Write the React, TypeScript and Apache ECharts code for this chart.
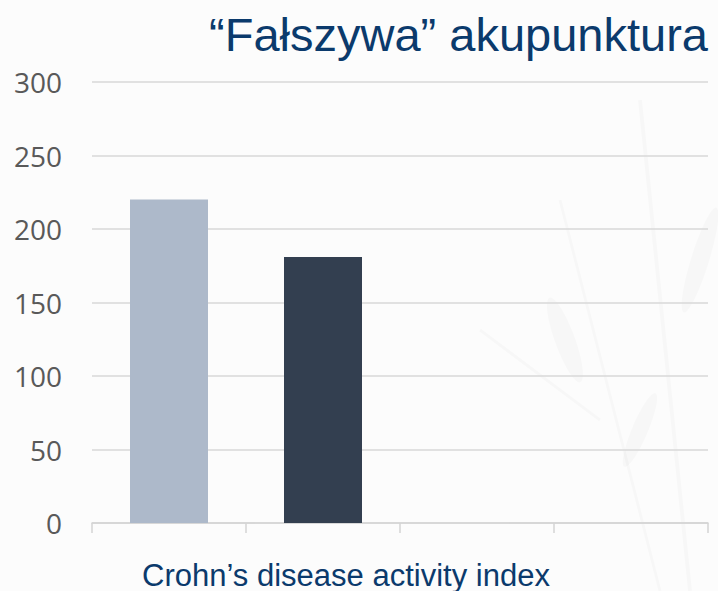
import React, { useEffect, useRef } from "react";
import * as echarts from "echarts";

const categories: string[] = ["", "", "", ""];
const barValues: (number | null)[] = [220, 181, null, null];
const barColors: string[] = ["#ADB9CA", "#333F50", "#ADB9CA", "#333F50"];
const yTicks = { min: 0, max: 300, interval: 50 };
const titleText = "\u201cFałszywa\u201d akupunktura";
const xName = "Crohn\u2019s disease activity index";

export default function App() {
  const ref = useRef<HTMLDivElement>(null);
  useEffect(() => {
    if (!ref.current) return;
    const chart = echarts.init(ref.current, undefined, { renderer: "svg" });
    const leaf = "rgba(0,0,0,0.02)";
    chart.setOption({
      animation: false,
      backgroundColor: "#fcfcfc",
      graphic: [
        { type: "line", silent: true, z: -10, shape: { x1: 560, y1: 200, x2: 660, y2: 591 }, style: { stroke: leaf, lineWidth: 3 } },
        { type: "line", silent: true, z: -10, shape: { x1: 640, y1: 100, x2: 690, y2: 591 }, style: { stroke: leaf, lineWidth: 4 } },
        { type: "line", silent: true, z: -10, shape: { x1: 480, y1: 330, x2: 600, y2: 420 }, style: { stroke: leaf, lineWidth: 3 } },
        { type: "ellipse", silent: true, z: -10, x: 565, y: 340, rotation: 0.35, shape: { cx: 0, cy: 0, rx: 10, ry: 45 }, style: { fill: leaf } },
        { type: "ellipse", silent: true, z: -10, x: 700, y: 260, rotation: -0.3, shape: { cx: 0, cy: 0, rx: 9, ry: 55 }, style: { fill: leaf } },
        { type: "ellipse", silent: true, z: -10, x: 640, y: 430, rotation: -0.4, shape: { cx: 0, cy: 0, rx: 8, ry: 40 }, style: { fill: leaf } },
        {
          type: "text",
          right: 10,
          top: 11,
          style: {
            text: titleText,
            fontFamily: "Liberation Sans, Arial, sans-serif",
            fontSize: 47,
            fill: "#0B3A6C",
          },
        },
        {
          type: "text",
          x: 346,
          y: 575,
          style: {
            text: xName,
            fontFamily: "Liberation Sans, Arial, sans-serif",
            fontSize: 31,
            fill: "#0B3A6C",
            align: "center",
            verticalAlign: "middle",
          },
        },
      ],
      grid: { left: 92, right: 10, top: 82, bottom: 68, containLabel: false },
      xAxis: {
        type: "category",
        data: categories,
        boundaryGap: true,
        axisLine: { show: true, lineStyle: { color: "#d4d4d4", width: 1.5 } },
        axisTick: { show: true, length: 10, lineStyle: { color: "#d4d4d4", width: 1.5 } },
        axisLabel: { show: false },
        splitLine: { show: false },
      },
      yAxis: {
        type: "value",
        min: yTicks.min,
        max: yTicks.max,
        interval: yTicks.interval,
        axisLine: { show: false },
        axisTick: { show: false },
        axisLabel: {
          margin: 30,
          fontFamily: "Open Sans, sans-serif",
          fontSize: 28,
          color: "#595959",
        },
        splitLine: { lineStyle: { color: "#d9d9d9", width: 1.5 } },
      },
      series: [
        {
          type: "bar",
          barWidth: 78,
          data: barValues.map((v, i) => ({ value: v, itemStyle: { color: barColors[i] } })),
        },
      ],
    });
    return () => chart.dispose();
  }, []);
  return <div ref={ref} style={{ position: "fixed", left: 0, top: 0, width: 718, height: 591 }} />;
}
